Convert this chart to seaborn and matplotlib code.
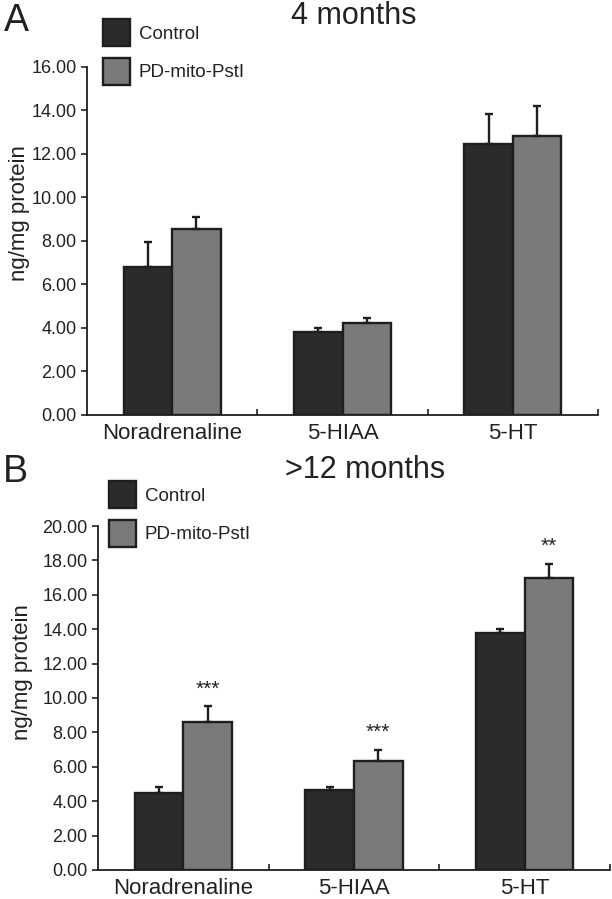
import matplotlib

matplotlib.use("Agg")
import matplotlib.pyplot as plt
import pandas as pd
import seaborn as sns

# Data
compounds = ["Noradrenaline", "5-HIAA", "5-HT"]
groups = ["Control", "PD-mito-PstI"]

# Panel A: 4 months
a_control = [6.80, 3.80, 12.45]
a_pd = [8.53, 4.21, 12.83]
a_control_err = [1.15, 0.18, 1.41]
a_pd_err = [0.58, 0.26, 1.38]

# Panel B: >12 months
b_control = [4.48, 4.65, 13.78]
b_pd = [8.62, 6.36, 16.99]
b_control_err = [0.37, 0.20, 0.25]
b_pd_err = [0.90, 0.62, 0.80]
b_pd_sig = ["***", "***", "**"]

CONTROL_COLOR = "#2b2b2b"
PD_COLOR = "#7a7a7a"
EDGE_COLOR = "#1e1e1e"
TEXT_COLOR = "#222222"

sns.set_style("ticks")
plt.rcParams["font.family"] = ["Liberation Sans", "DejaVu Sans"]
plt.rcParams["text.color"] = TEXT_COLOR
plt.rcParams["axes.labelcolor"] = TEXT_COLOR
plt.rcParams["xtick.color"] = TEXT_COLOR
plt.rcParams["ytick.color"] = TEXT_COLOR


def make_frame(control, pd_vals):
    return pd.DataFrame(
        {
            "compound": compounds * 2,
            "group": [groups[0]] * 3 + [groups[1]] * 3,
            "value": list(control) + list(pd_vals),
        }
    )


def draw_panel(ax, control, pd_vals, control_err, pd_err, ymax, label_x, label_y, sig=None):
    df = make_frame(control, pd_vals)
    sns.barplot(
        data=df,
        x="compound",
        y="value",
        hue="group",
        order=compounds,
        hue_order=groups,
        palette=[CONTROL_COLOR, PD_COLOR],
        edgecolor=EDGE_COLOR,
        linewidth=1.7,
        width=0.57,
        saturation=1,
        errorbar=None,
        ax=ax,
    )
    bar_groups = list(ax.containers)

    # upper-only error bars, drawn behind the bars
    for container, errs in zip(bar_groups, [control_err, pd_err]):
        for bar, err in zip(container, errs):
            x = bar.get_x() + bar.get_width() / 2
            h = bar.get_height()
            ax.errorbar(
                x, h, yerr=[[0], [err]], fmt="none", ecolor=EDGE_COLOR,
                elinewidth=1.7, capsize=3, capthick=1.7, zorder=1,
            )

    if sig is not None:
        for bar, err, s in zip(bar_groups[1], pd_err, sig):
            x = bar.get_x() + bar.get_width() / 2
            ax.text(x, bar.get_height() + err + 1.0, s, ha="center",
                    va="center", fontsize=15, color=TEXT_COLOR)

    ax.set_xlim(-0.5, 2.5)
    ax.set_ylim(0, ymax)
    ax.set_yticks(range(0, ymax + 1, 2))
    ax.set_yticklabels([f"{v:.2f}" for v in range(0, ymax + 1, 2)], fontsize=13)
    ax.tick_params(axis="y", direction="out", length=4.5, width=1.2, pad=3)

    ax.set_xticks(range(len(compounds)))
    ax.set_xticklabels(compounds, fontsize=16)
    ax.tick_params(axis="x", which="major", length=0, pad=6)
    ax.set_xticks([0.5, 1.5, 2.5], minor=True)
    ax.tick_params(axis="x", which="minor", direction="in", length=4.5, width=1.2)

    ax.set_xlabel("")
    ax.set_ylabel("ng/mg protein", fontsize=16)
    ax.yaxis.set_label_coords(label_x, label_y)

    sns.despine(ax=ax)
    for side in ["left", "bottom"]:
        ax.spines[side].set_linewidth(1.3)
        ax.spines[side].set_color(EDGE_COLOR)

    ax.get_legend().remove()
    return bar_groups


fig = plt.figure(figsize=(6.12, 8.99), dpi=100)
ax_a = fig.add_axes([0.1422, 0.5384, 0.835, 0.3871])
ax_b = fig.add_axes([0.1601, 0.0323, 0.8366, 0.3826])

bars_a = draw_panel(ax_a, a_control, a_pd, a_control_err, a_pd_err, 16, -0.112, 0.58)
bars_b = draw_panel(ax_b, b_control, b_pd, b_control_err, b_pd_err, 20, -0.127, 0.575,
                    sig=b_pd_sig)

# legends in the top-left corner of each panel
for ax, bars, anchor in [(ax_a, bars_a, (103 / 612, 1 - 19 / 899)),
                         (ax_b, bars_b, (109 / 612, 1 - 481 / 899))]:
    ax.legend(
        [c.patches[0] for c in bars], groups,
        loc="upper left", bbox_to_anchor=anchor, bbox_transform=fig.transFigure,
        frameon=False, fontsize=13.5, handlelength=1.45, handleheight=1.85,
        labelspacing=0.62, handletextpad=0.45, borderpad=0, borderaxespad=0,
    )

# panel letters and titles
fig.text(4 / 612, 1 - 3 / 899, "A", fontsize=27, va="top", ha="left")
fig.text(354 / 612, 1 - 1 / 899, "4 months", fontsize=22, va="top", ha="center")
fig.text(3 / 612, 1 - 454 / 899, "B", fontsize=27, va="top", ha="left")
fig.text(365 / 612, 1 - 455 / 899, ">12 months", fontsize=22, va="top", ha="center")

fig.savefig("out.png", dpi=100)
